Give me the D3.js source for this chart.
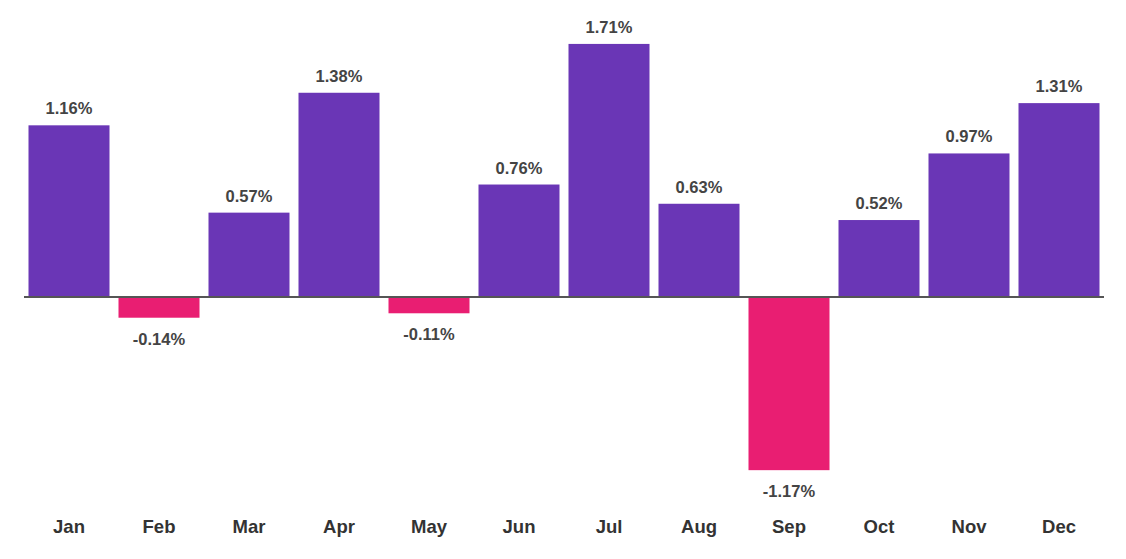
<!DOCTYPE html>
<html><head><meta charset="utf-8">
<script src="https://cdn.jsdelivr.net/npm/d3@7"></script>
<style>body{margin:0;background:#fff}svg{display:block}</style>
</head><body>
<svg id="c" width="1126" height="559"></svg>
<script>
const months = ["Jan","Feb","Mar","Apr","May","Jun","Jul","Aug","Sep","Oct","Nov","Dec"];
const values = [1.16,-0.14,0.57,1.38,-0.11,0.76,1.71,0.63,-1.17,0.52,0.97,1.31];

const svg = d3.select("#c");
const x = d3.scaleBand().domain(months).range([24,1104]).paddingInner(0.1).paddingOuter(0.05);
const y = d3.scaleLinear().domain([-1.5,2]).range([519,1]);
const font = "'Liberation Sans', Arial, Helvetica, sans-serif";

svg.selectAll("rect.bar").data(months).join("rect")
  .attr("class","bar")
  .attr("x", d=>x(d))
  .attr("width", x.bandwidth())
  .attr("y", (d,i)=> y(Math.max(0,values[i])))
  .attr("height", (d,i)=> Math.abs(y(values[i])-y(0)))
  .attr("fill", (d,i)=> values[i]>=0 ? "#6a36b6" : "#e91e72");

svg.append("line")
  .attr("x1",24).attr("x2",1104)
  .attr("y1",y(0)).attr("y2",y(0))
  .attr("stroke","#555").attr("stroke-width",2);

svg.selectAll("text.val").data(months).join("text")
  .attr("class","val")
  .attr("x", d=>x(d)+x.bandwidth()/2)
  .attr("y", (d,i)=> values[i]>=0 ? y(values[i])-11 : y(values[i])+27)
  .attr("text-anchor","middle")
  .attr("font-family",font).attr("font-weight","bold").attr("font-size",16.5)
  .attr("fill","#444")
  .text((d,i)=> values[i].toFixed(2)+"%");

const ax = svg.append("g").attr("transform","translate(0,500)")
  .call(d3.axisBottom(x).tickSize(0).tickPadding(0));
ax.select(".domain").remove();
ax.selectAll("text")
  .attr("dy",null).attr("y",33)
  .attr("font-family",font).attr("font-weight","bold").attr("font-size",18.5)
  .attr("fill","#333");
</script>
</body></html>
